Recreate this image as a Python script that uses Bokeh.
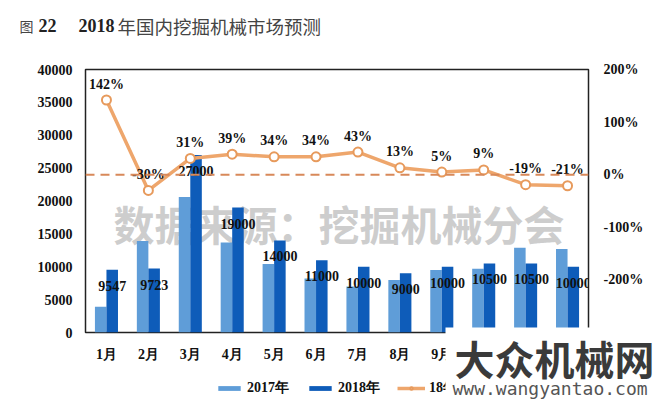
from bokeh.plotting import figure
from bokeh.models import (ColumnDataSource, FactorRange, Range1d, LinearAxis,
                          FixedTicker, PrintfTickFormatter, Span, Label,
                          Legend, LegendItem, BoxAnnotation)
from bokeh.layouts import column
from bokeh.transform import dodge
from bokeh.core.properties import value
from bokeh.embed import file_html
from bokeh.resources import INLINE

months = ["1月", "2月", "3月", "4月", "5月", "6月", "7月", "8月", "9月", "10月", "11月", "12月"]
sales_2017 = [3900, 13900, 20600, 13700, 10400, 8200, 7000, 8000, 9500, 9700, 12900, 12700]
sales_2018 = [9547, 9723, 27000, 19000, 14000, 11000, 10000, 9000, 10000, 10500, 10500, 10000]
growth_pct = [142, -30, 31, 39, 34, 34, 43, 13, 5, 9, -19, -21]
left_ticks = [0, 5000, 10000, 15000, 20000, 25000, 30000, 35000, 40000]
right_ticks = [-200, -100, 0, 100, 200]
legend_labels = ["2017年", "2018年", "18年同比增速"]

SERIF = "Liberation Serif"
CJK = "Noto Sans CJK SC"
C17 = "#5f9dd8"
C18 = "#0e5cb9"
CLINE = "#eea66c"
CMARK = "#e79a5c"
W, H = 660, 407

src = ColumnDataSource(dict(
    month=months, s17=sales_2017, s18=sales_2018, g=growth_pct,
    s18_txt=[str(v) for v in sales_2018],
    g_txt=[f"{v}%" for v in growth_pct],
))

p = figure(width=W, height=H, x_range=FactorRange(*months),
           y_range=Range1d(0, 40000), output_backend="svg",
           toolbar_location=None, min_border_left=85, min_border_right=72,
           min_border_top=69, min_border_bottom=75)
p.frame_align = False
p.extra_y_ranges = {"pct": Range1d(-300, 200)}
p.background_fill_color = "white"
p.border_fill_color = "white"
p.outline_line_color = "#222222"
p.outline_line_width = 1.5
p.xgrid.visible = False
p.ygrid.visible = False

ya = p.yaxis[0]
ya.ticker = FixedTicker(ticks=left_ticks)
ya.formatter = PrintfTickFormatter(format="%d")
ra = LinearAxis(y_range_name="pct", ticker=FixedTicker(ticks=right_ticks),
                formatter=PrintfTickFormatter(format="%d%%"))
p.add_layout(ra, "right")
xa = p.xaxis[0]
for ax in [ya, ra, xa]:
    ax.axis_line_color = None
    ax.major_tick_line_color = None
    ax.minor_tick_line_color = None
    ax.major_tick_out = 0
    ax.major_tick_in = 0
    ax.minor_tick_out = 0
    ax.major_label_text_font = SERIF
    ax.major_label_text_font_style = "bold"
    ax.major_label_text_font_size = "14px"
    ax.major_label_text_color = "#111111"
ya.major_label_standoff = 13
ra.major_label_standoff = 15
xa.major_label_standoff = 14

# background watermark of the chart itself
p.add_layout(Label(x=28, y=110, x_units="screen", y_units="screen",
                   text="数据来源：挖掘机械分会", text_font=CJK,
                   text_font_style="bold", text_font_size="41px",
                   text_color="#c4c4c4", text_alpha=0.85,
                   text_baseline="middle", text_align="left",
                   level="underlay"))

b17 = p.vbar(x=dodge("month", -0.1375, range=p.x_range), top="s17", width=0.275,
             source=src, fill_color=C17, line_color=None)
b18 = p.vbar(x=dodge("month", 0.1375, range=p.x_range), top="s18", width=0.275,
             source=src, fill_color=C18, line_color=None)

p.add_layout(Span(location=0, dimension="width", y_range_name="pct",
                  line_color="#d8895a", line_width=2, line_dash="9 6"))

ln = p.line(x="month", y="g", source=src, y_range_name="pct",
            line_color=CLINE, line_width=3.5)
mk = p.scatter(x="month", y="g", source=src, y_range_name="pct", size=9,
               marker="circle", fill_color="white", line_color=CMARK,
               line_width=2)

p.text(x=dodge("month", 0.1375, range=p.x_range), y="s18", text="s18_txt",
       source=src, y_offset=16, text_align="center", text_baseline="middle",
       text_font=value(SERIF), text_font_style="bold", text_font_size="14px",
       text_color="#111111")
p.text(x="month", y="g", text="g_txt", source=src, y_range_name="pct",
       y_offset=-16, text_align="center", text_baseline="middle",
       text_font=value(SERIF), text_font_style="bold", text_font_size="14px",
       text_color="#111111")


def overlay():
    f = figure(width=W, height=H, x_range=Range1d(0, W), y_range=Range1d(0, H),
               output_backend="svg", toolbar_location=None,
               x_axis_location=None, y_axis_location=None,
               min_border_left=0, min_border_right=0, min_border_top=0,
               min_border_bottom=0)
    f.frame_align = False
    f.xgrid.visible = False
    f.ygrid.visible = False
    f.outline_line_color = None
    f.background_fill_color = None
    f.border_fill_color = None
    f.margin = (-H, 0, 0, 0)
    return f


# ---- overlay 1: title and legend ----
o = overlay()
nan = float("nan")
dummy = ColumnDataSource(dict(x=[nan], y=[nan]))
d17 = o.vbar(x="x", top="y", width=1, source=dummy, fill_color=C17, line_color=None)
d18 = o.vbar(x="x", top="y", width=1, source=dummy, fill_color=C18, line_color=None)
dln = o.line(x="x", y="y", source=dummy, line_color=CLINE, line_width=3.5)
dmk = o.scatter(x="x", y="y", source=dummy, size=9, marker="circle",
                fill_color="white", line_color=CMARK, line_width=2)
legend = Legend(items=[LegendItem(label=legend_labels[0], renderers=[d17]),
                       LegendItem(label=legend_labels[1], renderers=[d18]),
                       LegendItem(label=legend_labels[2], renderers=[dln, dmk])],
                orientation="horizontal", location=(215, 10),
                glyph_width=28, glyph_height=6, label_standoff=4, spacing=17,
                padding=0, margin=0, border_line_color=None,
                background_fill_alpha=0, label_text_font=SERIF,
                label_text_font_style="bold", label_text_font_size="14px",
                label_text_color="#111111", label_height=16)
o.add_layout(legend, "center")

title_parts = [("图", 19, CJK, "normal", "#444444", "14px"),
               ("22", 38, SERIF, "bold", "#222222", "18px"),
               ("2018", 78, SERIF, "bold", "#222222", "18px"),
               ("年国内挖掘机械市场预测", 117, CJK, "normal", "#444444", "18.5px")]
for txt, xx, fnt, sty, col, sz in title_parts:
    o.add_layout(Label(x=xx, y=H - 25, text=txt, text_font=fnt,
                       text_font_style=sty, text_font_size=sz, text_color=col,
                       text_baseline="middle", text_align="left"))

# ---- overlay 2: site watermark on a white box ----
o2 = overlay()
o2.add_layout(BoxAnnotation(left=445, right=W, bottom=0, top=H - 327,
                            fill_color="white", fill_alpha=1.0, line_color=None))
o2.add_layout(Label(x=454, y=H - 357, text="大众机械网", text_font=CJK,
                    text_font_style="bold", text_font_size="40px",
                    text_color="#3a3a3a", text_baseline="middle",
                    text_align="left"))
o2.add_layout(Label(x=452, y=H - 388, text="www.wangyantao.com",
                    text_font="DejaVu Sans Mono", text_font_size="18px",
                    text_color="#555555", text_baseline="middle",
                    text_align="left"))

layout = column(p, o, o2, spacing=0)
open("out.html", "w").write(file_html(layout, INLINE))
